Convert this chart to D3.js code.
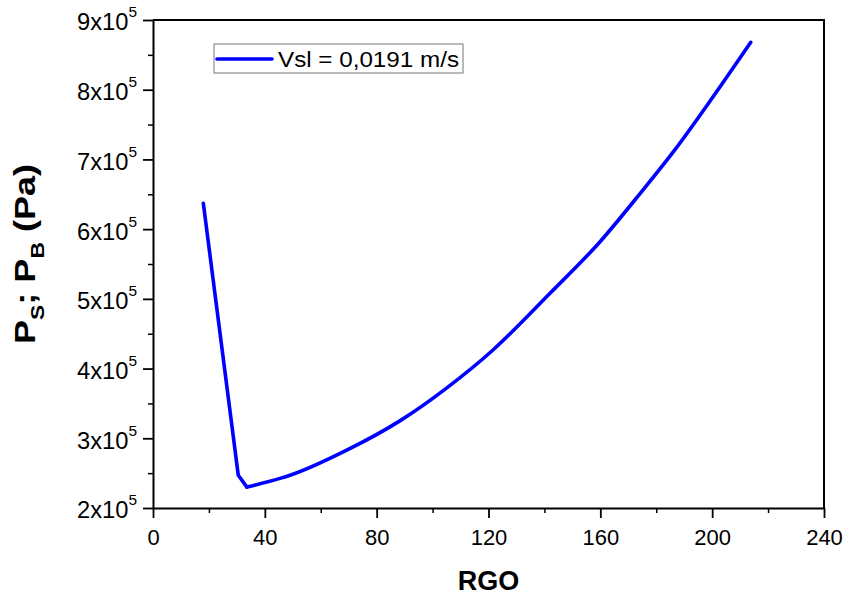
<!DOCTYPE html>
<html>
<head>
<meta charset="utf-8">
<script src="https://cdn.jsdelivr.net/npm/d3@7"></script>
<style>
    body { margin: 0; background: #fff; }
    .chart { width: 846px; height: 597px; }
    svg text { font-family: 'Liberation Sans', Arial, sans-serif; fill: #000; }
</style>
</head>
<body>
<div class="chart"></div>
<script>
// data
const rgo = [18, 30.5, 33.6, 45.4, 49, 69.3, 88.3, 105, 121.7, 142, 159.9, 174.2, 186.7, 200, 213.8];
const pressure = [6.37e5, 2.47e5, 2.30e5, 2.425e5, 2.47e5, 2.83e5, 3.25e5, 3.72e5, 4.27e5, 5.08e5, 5.82e5, 6.51e5, 7.14e5, 7.88e5, 8.68e5];
const xTicks = [0, 40, 80, 120, 160, 200, 240];
const yTicks = [2e5, 3e5, 4e5, 5e5, 6e5, 7e5, 8e5, 9e5];
const seriesName = 'Vsl = 0,0191 m/s';

function createChart(el) {
    const $sel = d3.select(el);
    const data = rgo.map((d, i) => ({ x: d, y: pressure[i] }));
    // index of the minimum: the drop before it is straight, the rise after it is smooth
    const iMin = d3.minIndex(data, d => d.y);

    // dimension stuff
    let width = 0;
    let height = 0;
    const marginTop = 20;
    const marginBottom = 89;
    const marginLeft = 153;
    const marginRight = 22;

    // scales
    const scaleX = d3.scaleLinear().domain([0, 240]);
    const scaleY = d3.scaleLinear().domain([2e5, 9e5]);

    // dom elements
    let $svg = null;
    let $g = null;
    let $vis = null;

    // helper: "9x10" + superscript exponent
    function sciLabel(sel) {
        sel.each(function (d) {
            const $t = d3.select(this).text(null)
                .attr('textLength', 60).attr('lengthAdjust', 'spacingAndGlyphs');
            $t.append('tspan').text(`${Math.round(d / 1e5)}x10`);
            $t.append('tspan').attr('dy', -13).attr('font-size', 15).text('5');
        });
    }

    const Chart = {
        init() {
            $svg = $sel.append('svg');
            $g = $svg.append('g').attr('transform', `translate(${marginLeft}, ${marginTop})`);
            $vis = $g.append('g').attr('class', 'g-vis');
            Chart.resize();
            Chart.render();
        },
        resize() {
            width = $sel.node().offsetWidth - marginLeft - marginRight;
            height = $sel.node().offsetHeight - marginTop - marginBottom;
            $svg.attr('width', width + marginLeft + marginRight)
                .attr('height', height + marginTop + marginBottom);
            scaleX.range([0, width]);
            scaleY.range([height, 0]);
            return Chart;
        },
        render() {
            // minor ticks
            $g.append('g')
                .attr('transform', `translate(0, ${height})`)
                .call(d3.axisBottom(scaleX).tickValues(d3.range(20, 240, 40)).tickSize(5).tickFormat(''))
                .call(a => a.select('.domain').remove())
                .selectAll('line').attr('stroke-width', 1.5);
            $g.append('g')
                .call(d3.axisLeft(scaleY).tickValues(d3.range(2.5e5, 9e5, 1e5)).tickSize(5).tickFormat(''))
                .call(a => a.select('.domain').remove())
                .selectAll('line').attr('stroke-width', 1.5);

            // major axes
            const $xAxis = $g.append('g')
                .attr('transform', `translate(0, ${height})`)
                .call(d3.axisBottom(scaleX).tickValues(xTicks).tickSize(10).tickSizeOuter(0).tickPadding(6));
            $xAxis.selectAll('text').attr('font-size', 22).attr('dy', '0.95em');

            const $yAxis = $g.append('g')
                .call(d3.axisLeft(scaleY).tickValues(yTicks).tickSize(10).tickSizeOuter(0).tickPadding(6));
            $yAxis.selectAll('text').attr('font-size', 23).attr('dy', '0.43em').call(sciLabel);

            [$xAxis, $yAxis].forEach($a => {
                $a.select('.domain').attr('stroke-width', 2);
                $a.selectAll('.tick line').attr('stroke-width', 1.8);
            });

            // top and right frame
            $g.append('path')
                .attr('d', `M0,0H${width}V${height}`)
                .attr('fill', 'none')
                .attr('stroke', '#000')
                .attr('stroke-width', 2);

            // line
            const drop = d3.line().x(d => scaleX(d.x)).y(d => scaleY(d.y));
            const rise = d3.line().x(d => scaleX(d.x)).y(d => scaleY(d.y)).curve(d3.curveMonotoneX);
            $vis.selectAll('path')
                .data([drop(data.slice(0, iMin + 1)), rise(data.slice(iMin))])
                .join('path')
                .attr('d', d => d)
                .attr('fill', 'none')
                .attr('stroke', '#0000ff')
                .attr('stroke-width', 3.6)
                .attr('stroke-linecap', 'round')
                .attr('stroke-linejoin', 'round');

            // legend
            const $legend = $g.append('g').attr('transform', 'translate(61, 24)');
            $legend.append('rect')
                .attr('width', 249).attr('height', 29)
                .attr('fill', '#fff').attr('stroke', '#777').attr('stroke-width', 1);
            $legend.append('line')
                .attr('x1', 3).attr('x2', 58).attr('y1', 15).attr('y2', 15)
                .attr('stroke', '#0000ff').attr('stroke-width', 3.6).attr('stroke-linecap', 'round');
            $legend.append('text')
                .attr('x', 64).attr('y', 23)
                .attr('font-size', 22)
                .attr('textLength', 181).attr('lengthAdjust', 'spacingAndGlyphs')
                .text(seriesName);

            // axis titles
            $g.append('text')
                .attr('x', width / 2).attr('y', height + 82)
                .attr('text-anchor', 'middle')
                .attr('font-size', 27).attr('font-weight', 'bold')
                .text('RGO');

            const $yTitle = $g.append('text')
                .attr('transform', `translate(${35 - marginLeft}, ${254 - marginTop}) rotate(-90)`)
                .attr('text-anchor', 'middle')
                .attr('font-size', 30).attr('font-weight', 'bold')
                .attr('textLength', 180).attr('lengthAdjust', 'spacingAndGlyphs');
            $yTitle.append('tspan').text('P');
            $yTitle.append('tspan').attr('font-size', 19).attr('dy', 9).text('S');
            $yTitle.append('tspan').attr('dy', -9).text('; P');
            $yTitle.append('tspan').attr('font-size', 19).attr('dy', 9).text('B');
            $yTitle.append('tspan').attr('dy', -9).text(' (Pa)');
        },
    };
    Chart.init();
    return Chart;
}

createChart(document.querySelector('.chart'));
</script>
</body>
</html>
